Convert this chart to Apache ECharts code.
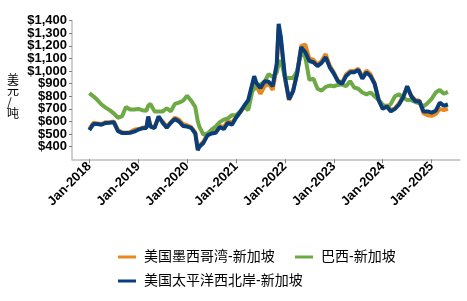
<!DOCTYPE html>
<html><head><meta charset="utf-8">
<script src="https://cdn.jsdelivr.net/npm/echarts@6/dist/echarts.min.js"></script>
<style>html,body{margin:0;padding:0;background:#fff}#c{width:467px;height:301px}</style>
</head><body><div id="c"></div>
<script>
var dates = [
'2018-01-01','2018-02-01','2018-03-01','2018-04-01','2018-05-01','2018-06-01','2018-07-01','2018-08-01','2018-09-01','2018-10-01','2018-11-01','2018-12-01',
'2019-01-01','2019-02-01','2019-03-01','2019-03-15','2019-04-01','2019-05-01','2019-06-01','2019-07-01','2019-08-01','2019-09-01','2019-10-01','2019-11-01','2019-12-01',
'2020-01-01','2020-02-01','2020-03-01','2020-03-20','2020-04-01','2020-05-01','2020-06-01','2020-07-01','2020-08-01','2020-09-01','2020-10-01','2020-11-01','2020-12-01',
'2021-01-01','2021-02-01','2021-03-01','2021-04-01','2021-05-01','2021-05-15','2021-06-01','2021-07-01','2021-08-01','2021-09-01','2021-10-01','2021-11-01','2021-11-15','2021-12-01',
'2022-01-01','2022-02-01','2022-03-01','2022-04-01','2022-05-01','2022-06-01','2022-07-01','2022-08-01','2022-09-01','2022-10-01','2022-11-01','2022-12-01',
'2023-01-01','2023-02-01','2023-03-01','2023-04-01','2023-05-01','2023-06-01','2023-07-01','2023-08-01','2023-09-01','2023-10-01','2023-11-01','2023-12-01',
'2024-01-01','2024-02-01','2024-03-01','2024-04-01','2024-05-01','2024-06-01','2024-07-01','2024-08-01','2024-09-01','2024-10-01','2024-11-01','2024-12-01',
'2025-01-01','2025-02-01','2025-03-01','2025-04-01','2025-05-01'
];
var gulfSingapore = [
540,590,585,580,595,595,600,535,515,510,515,535,
540,550,555,630,565,555,630,600,560,595,630,615,580,
570,555,515,385,410,440,500,515,520,565,555,605,590,
635,670,715,755,860,925,880,820,880,900,850,1040,1345,1240,
940,770,845,990,1200,1210,1100,1090,1050,1080,1135,1045,
990,925,905,975,1000,1000,1020,955,1005,975,905,775,
705,730,690,705,745,800,870,805,770,765,665,650,
645,660,700,690,700
];
var brazilSingapore = [
825,800,770,735,710,690,665,630,640,715,695,695,
700,690,685,725,740,680,680,680,705,680,740,750,765,
805,765,715,600,560,495,505,535,560,595,615,625,650,
650,680,715,690,840,860,875,895,915,975,955,990,1060,1085,
950,945,945,1000,1150,1110,930,940,860,845,875,885,
880,890,895,880,920,870,860,830,815,830,800,770,
735,710,740,800,815,790,770,770,755,745,720,745,
780,830,850,820,835
];
var pnwSingapore = [
532,580,580,575,588,590,595,525,508,508,511,520,
535,546,548,640,560,548,640,590,550,590,620,600,565,
560,550,505,372,400,430,490,505,510,555,540,590,575,
630,675,725,770,900,960,905,865,920,915,880,1060,1375,1270,
955,775,840,980,1190,1150,1080,1070,1040,1065,1110,1030,
980,920,900,960,990,990,1010,940,990,960,900,770,
700,720,680,700,735,790,880,800,760,760,680,680,
670,685,750,725,735
];
var seriesNames = ['美国墨西哥湾-新加坡','巴西-新加坡','美国太平洋西北岸-新加坡'];
var yearTicks = [2018,2019,2020,2021,2022,2023,2024,2025];
var yTickValues = [400,500,600,700,800,900,1000,1100,1200,1300,1400];
var yLabels = ['$400','$500','$600','$700','$800','$900','$1,000','$1,100','$1,200','$1,300','$1,400'];
var yAxisTitle = '美元/吨';

function toYear(s){var p=s.split('-');return +p[0]+(+p[1]-1)/12+(+p[2]-1)/365;}
function pairs(vals){return dates.map(function(d,i){return [toYear(d),vals[i]];});}
var colors = ['#E8891D','#6DA945','#0B3D78'];
var font = '"Liberation Sans", Arial, "Noto Sans CJK SC", sans-serif';

var chart = echarts.init(document.getElementById('c'), null, {renderer:'canvas'});
var legendBase = function(name, left, top){
  return {data:[name], left:left, top:top, icon:'rect', itemWidth:18, itemHeight:3,
    textStyle:{fontSize:14, color:'#000', fontFamily:font, padding:[0,0,0,3]}, selectedMode:false};
};
chart.setOption({
  animation:false,
  color:colors,
  grid:{left:72, right:7, top:20.7, bottom:141.7, containLabel:false},
  legend:[legendBase(seriesNames[0],113,245), legendBase(seriesNames[1],290,245), legendBase(seriesNames[2],113,269)],
  xAxis:{type:'value', min:2017.646, max:2025.58,
    axisLine:{lineStyle:{color:'#BFBFBF', width:1.5}},
    axisTick:{show:true, length:4, customValues:yearTicks, lineStyle:{color:'#7F7F7F'}},
    axisLabel:{customValues:yearTicks, rotate:45, margin:5, fontSize:13, fontWeight:'bold', color:'#000', fontFamily:font,
      formatter:function(v){return 'Jan-'+Math.round(v);}},
    splitLine:{show:false}},
  yAxis:{type:'value', min:300, max:1400, interval:100,
    axisLine:{show:true, lineStyle:{color:'#BFBFBF', width:1.5}},
    axisTick:{show:true, length:3, customValues:yTickValues, lineStyle:{color:'#7F7F7F'}},
    axisLabel:{show:false},
    splitLine:{show:false}},
  series:[
    {name:seriesNames[0], type:'line', data:pairs(gulfSingapore), showSymbol:false, lineStyle:{width:4}},
    {name:seriesNames[1], type:'line', data:pairs(brazilSingapore), showSymbol:false, lineStyle:{width:4}},
    {name:seriesNames[2], type:'line', data:pairs(pnwSingapore), showSymbol:false, lineStyle:{width:4}}
  ]
});
var axisX = chart.convertToPixel({xAxisIndex:0}, 2017.646);
var g = [{type:'text', left:7, top:73, style:{text:yAxisTitle.split('').join('\n'), font:'12px "Noto Sans CJK SC", sans-serif', lineHeight:11.5, fill:'#000', align:'center'}}];
yTickValues.forEach(function(v,i){
  var py = chart.convertToPixel({yAxisIndex:0}, v);
  g.push({type:'text', x:axisX-5, y:py, style:{text:yLabels[i], font:'bold 13px "Liberation Sans", Arial, sans-serif', fill:'#000', align:'right', verticalAlign:'middle'}});
});
chart.setOption({graphic:g});
</script></body></html>
